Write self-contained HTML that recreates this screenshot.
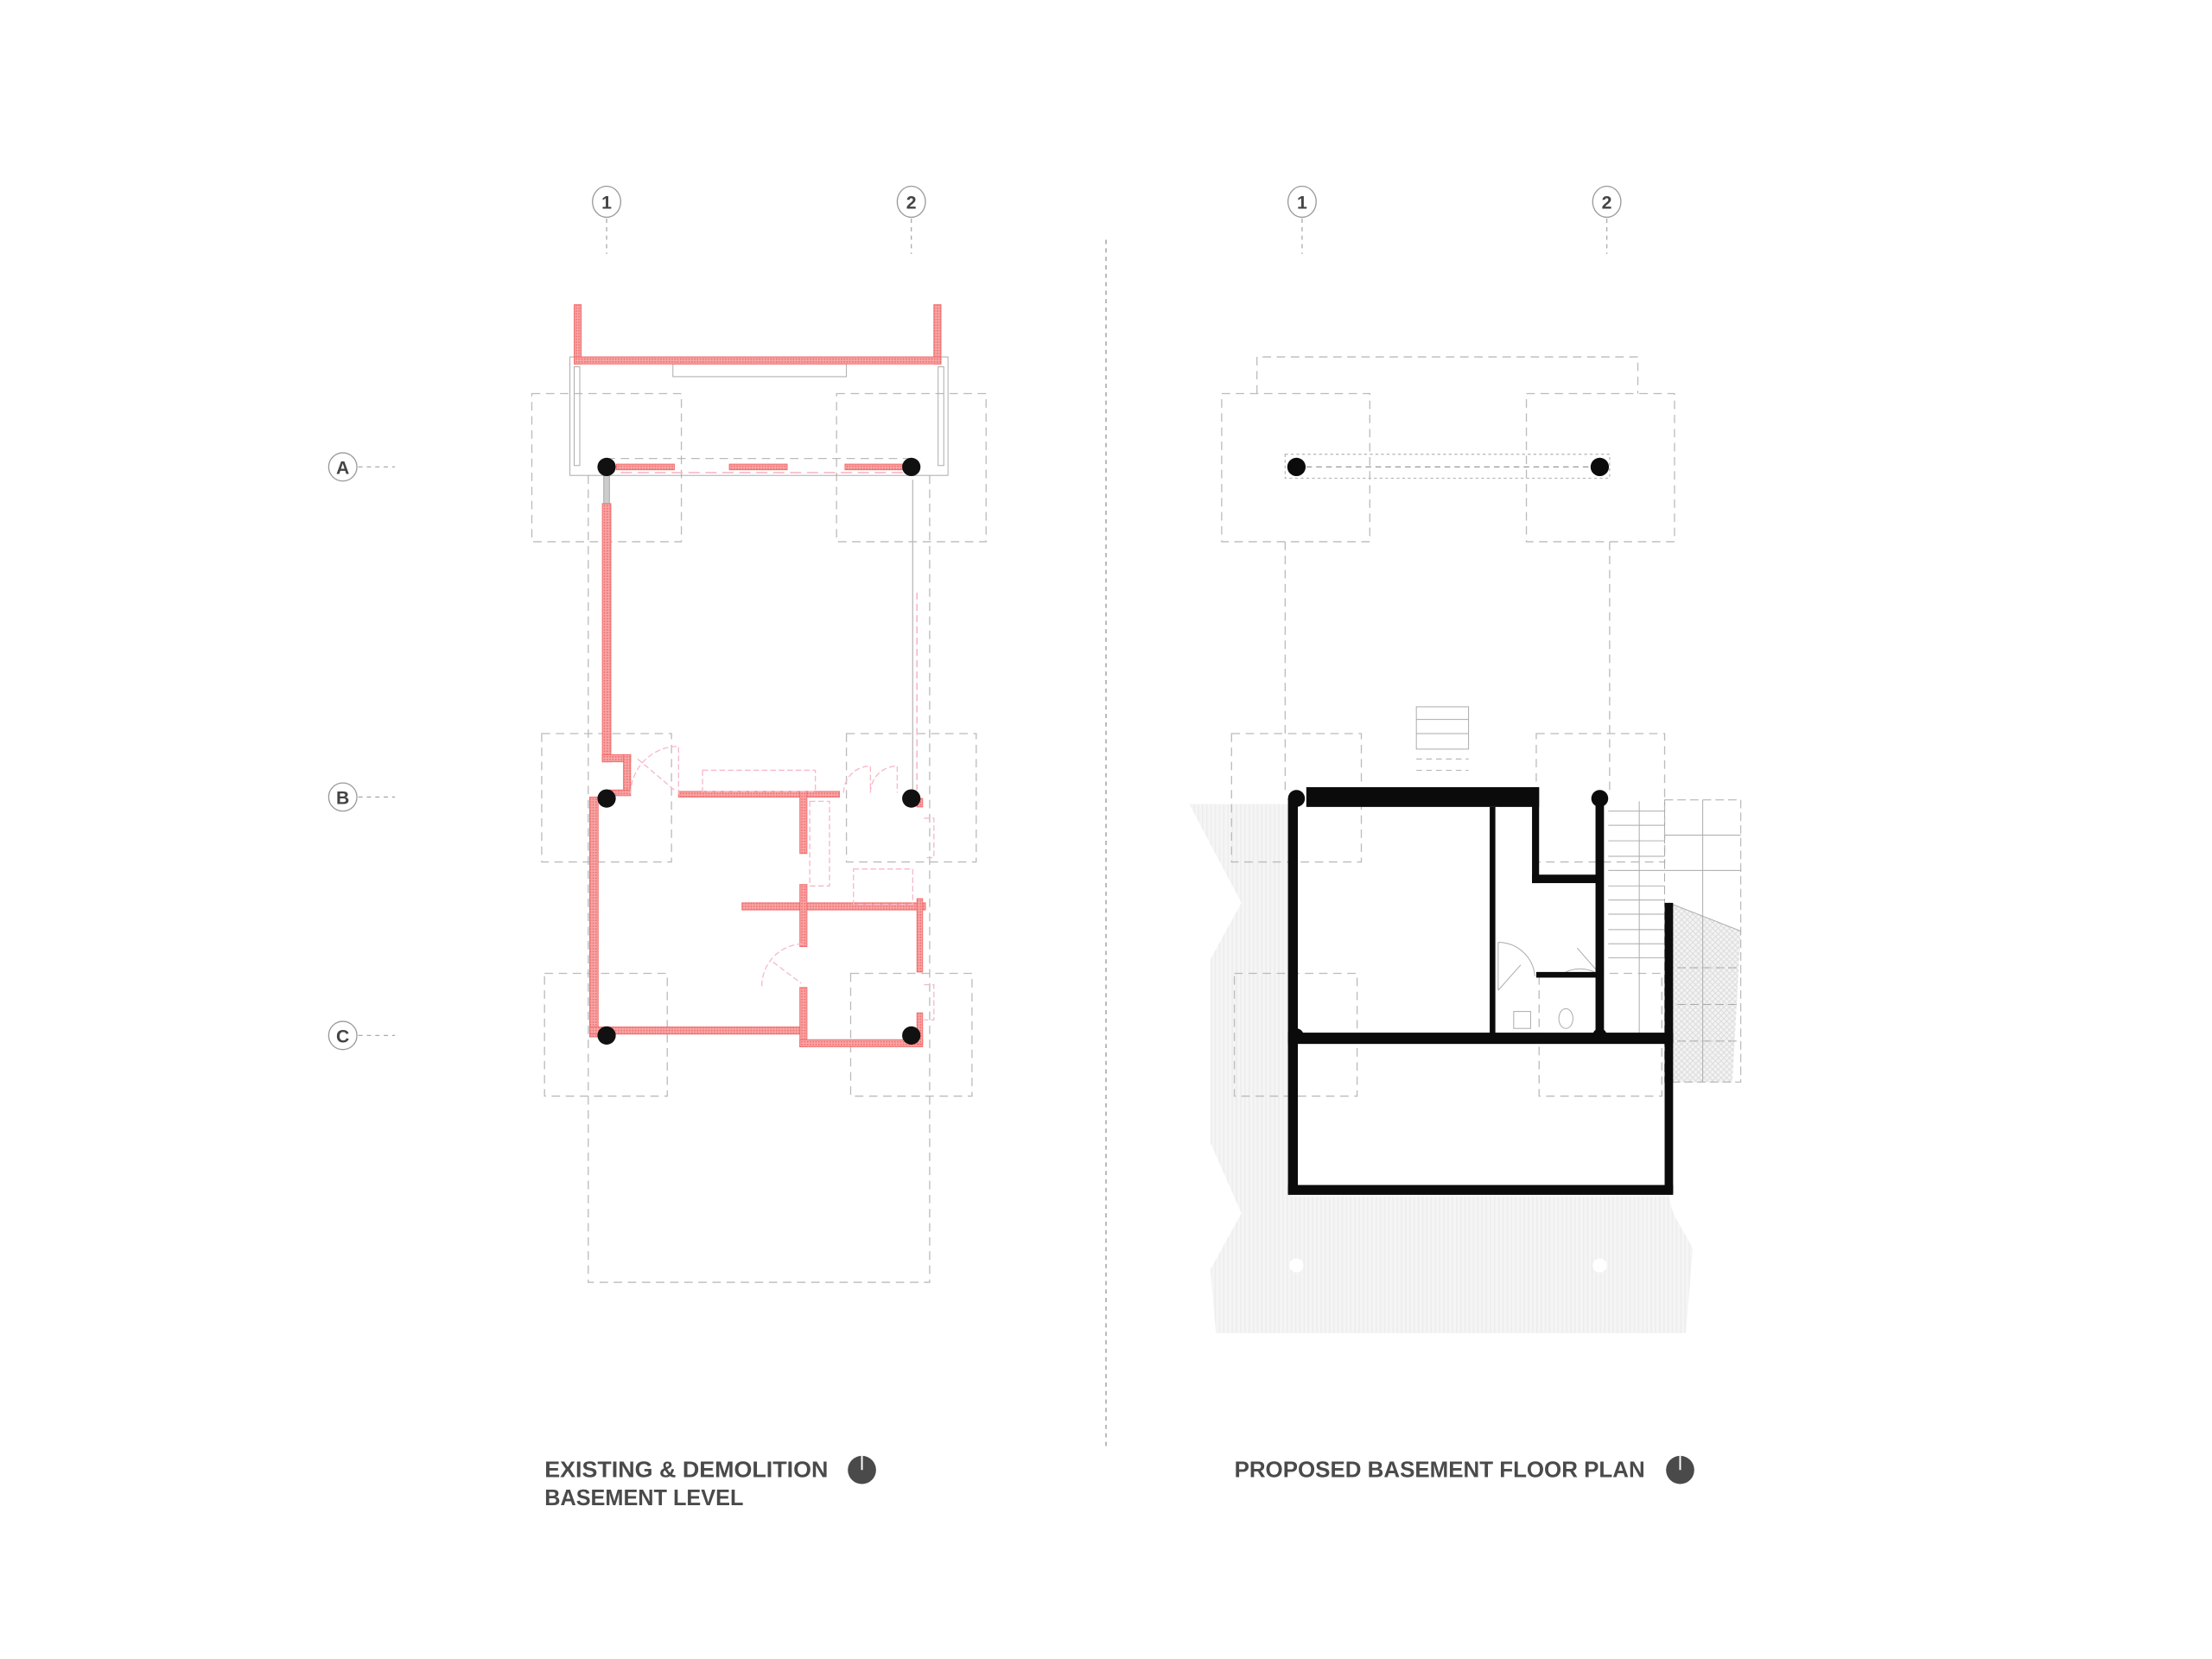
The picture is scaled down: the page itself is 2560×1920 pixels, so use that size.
<!DOCTYPE html>
<html><head><meta charset="utf-8"><style>
html,body{margin:0;padding:0;background:#fff;}
svg{display:block;}
text{font-family:"Liberation Sans",sans-serif;}
</style></head><body>
<svg width="2560" height="1920" viewBox="0 0 1568 1176" xmlns="http://www.w3.org/2000/svg">
<defs>
<pattern id="rh" width="2" height="2" patternUnits="userSpaceOnUse"><rect width="2" height="2" fill="#f7a5a5"/><rect width="1" height="1" fill="#f26d6d"/></pattern>
<pattern id="gh" width="3" height="3" patternUnits="userSpaceOnUse"><rect width="3" height="3" fill="#f5f5f5"/><rect width="1" height="3" fill="#ededed"/></pattern>
<pattern id="xh" width="4" height="4" patternUnits="userSpaceOnUse"><rect width="4" height="4" fill="#f3f3f3"/><path d="M0 0L4 4M4 0L0 4" stroke="#d8d8d8" stroke-width="0.5"/></pattern>
</defs>
<rect width="1568" height="1176" fill="#fff"/>

<line x1="784" y1="170" x2="784" y2="1027" stroke="#aaa" stroke-width="1" stroke-dasharray="3,3"/>

<g fill="#fff" stroke="#999" stroke-width="0.8">
<ellipse cx="430" cy="143" rx="10" ry="11"/><ellipse cx="646" cy="143" rx="10" ry="11"/>
<ellipse cx="923" cy="143" rx="10" ry="11"/><ellipse cx="1139" cy="143" rx="10" ry="11"/>
<ellipse cx="243" cy="331" rx="10" ry="10"/><ellipse cx="243" cy="565" rx="10" ry="10"/><ellipse cx="243" cy="734" rx="10" ry="10"/>
</g>
<g font-size="13" font-weight="bold" fill="#444" text-anchor="middle">
<text x="430" y="148">1</text><text x="646" y="148">2</text>
<text x="923" y="148">1</text><text x="1139" y="148">2</text>
<text x="243" y="336">A</text><text x="243" y="570">B</text><text x="243" y="739">C</text>
</g>
<g stroke="#aaa" stroke-width="0.8" stroke-dasharray="3,3">
<line x1="430" y1="155" x2="430" y2="180"/><line x1="646" y1="155" x2="646" y2="180"/>
<line x1="923" y1="155" x2="923" y2="180"/><line x1="1139" y1="155" x2="1139" y2="180"/>
<line x1="254" y1="331" x2="280" y2="331"/><line x1="254" y1="565" x2="280" y2="565"/><line x1="254" y1="734" x2="280" y2="734"/>
</g>

<g fill="none" stroke="#bbb" stroke-width="0.8" stroke-dasharray="6,4">
<rect x="377" y="279" width="106" height="105"/><rect x="593" y="279" width="106" height="105"/>
<rect x="384" y="520" width="92" height="91"/><rect x="600" y="520" width="92" height="91"/>
<rect x="386" y="690" width="87" height="87"/><rect x="603" y="690" width="86" height="87"/>
<polyline points="417,337 417,909 659,909 659,337"/>
<line x1="430" y1="325" x2="646" y2="325"/>
</g>
<rect x="404" y="253" width="268" height="84" fill="none" stroke="#aaa" stroke-width="0.6"/>
<rect x="477" y="258" width="123" height="9" fill="none" stroke="#aaa" stroke-width="0.6"/>
<rect x="407" y="260" width="4" height="70" fill="none" stroke="#aaa" stroke-width="0.6"/>
<rect x="665" y="260" width="4" height="70" fill="none" stroke="#aaa" stroke-width="0.6"/>
<rect x="428" y="337" width="4" height="20" fill="#ccc" stroke="#999" stroke-width="0.5"/>
<line x1="647" y1="340" x2="647" y2="560" stroke="#bbb" stroke-width="0.8"/>
<line x1="650" y1="420" x2="650" y2="560" stroke="#f7b8c8" stroke-width="1" stroke-dasharray="5,3"/>
<line x1="440" y1="335" x2="640" y2="335" stroke="#f7b8c8" stroke-width="1" stroke-dasharray="8,4"/>

<g fill="url(#rh)" stroke="#f26d6d" stroke-width="0.6">
<rect x="407" y="216" width="5" height="42"/><rect x="662" y="216" width="5" height="42"/>
<rect x="407" y="253" width="260" height="5"/>
<rect x="437" y="329" width="41" height="4"/><rect x="517" y="329" width="41" height="4"/><rect x="599" y="329" width="41" height="4"/>
<rect x="427" y="357" width="6" height="183"/>
<rect x="427" y="535" width="20" height="5"/><rect x="442" y="535" width="5" height="28"/>
<rect x="432" y="560" width="15" height="4"/>
<rect x="418" y="565" width="6" height="170"/>
<rect x="418" y="728" width="152" height="5"/>
<rect x="481" y="561" width="114" height="4"/>
<rect x="567" y="561" width="5" height="44"/>
<rect x="526" y="640" width="130" height="5"/>
<rect x="567" y="627" width="5" height="44"/>
<rect x="567" y="700" width="5" height="42"/>
<rect x="567" y="737" width="87" height="5"/>
<rect x="650" y="566" width="4" height="6"/>
<rect x="650" y="637" width="4" height="52"/>
<rect x="650" y="718" width="4" height="22"/>
</g>
<g fill="none" stroke="#f7b8c8" stroke-width="0.8" stroke-dasharray="4,2">
<path d="M447 563 A34 34 0 0 1 481 529 L481 563"/>
<path d="M452 538 L478 560"/>
<rect x="498" y="546" width="80" height="15"/>
<path d="M598 562 A19 19 0 0 1 617 543 L617 562 M617 562 A19 19 0 0 1 636 543 L636 562"/>
<path d="M540 699 A30 30 0 0 1 570 669 M548 682 L568 697"/>
<rect x="574" y="568" width="14" height="60"/>
<rect x="605" y="616" width="42" height="25"/>
<path d="M655 580 h7 v28 h-7 M655 698 h7 v25 h-7"/>
</g>
<g fill="#111">
<circle cx="430" cy="331" r="6.5"/><circle cx="646" cy="331" r="6.5"/>
<circle cx="430" cy="566" r="6.5"/><circle cx="646" cy="566" r="6.5"/>
<circle cx="430" cy="734" r="6.5"/><circle cx="646" cy="734" r="6.5"/>
</g>

<polygon fill="url(#gh)" points="843,570 915,570 915,848 1183,848 1186,860 1200,885 1195,945 862,945 858,900 880,860 858,810 858,680 880,640"/>
<polygon fill="url(#xh)" points="1183,640 1234,660 1228,767 1183,767"/>
<g fill="none" stroke="#bbb" stroke-width="0.8" stroke-dasharray="6,4">
<polyline points="891,279 891,253 1161,253 1161,279"/>
<rect x="866" y="279" width="105" height="105"/><rect x="1082" y="279" width="105" height="105"/>
<rect x="873" y="520" width="92" height="91"/><rect x="1089" y="520" width="91" height="91"/>
<rect x="875" y="690" width="87" height="87"/><rect x="1091" y="690" width="87" height="87"/>
<line x1="911" y1="384" x2="911" y2="560"/><line x1="1141" y1="384" x2="1141" y2="560"/>
</g>
<rect x="911" y="322" width="230" height="17" fill="none" stroke="#bbb" stroke-width="0.8" stroke-dasharray="2,2"/>
<line x1="919" y1="331" x2="1134" y2="331" stroke="#999" stroke-width="0.8" stroke-dasharray="4,3"/>
<g fill="none" stroke="#aaa" stroke-width="0.6">
<rect x="1004" y="501" width="37" height="30"/>
<line x1="1004" y1="510" x2="1041" y2="510"/><line x1="1004" y1="520" x2="1041" y2="520"/>
<line x1="1004" y1="538" x2="1041" y2="538" stroke-dasharray="4,3"/><line x1="1004" y1="546" x2="1041" y2="546" stroke-dasharray="4,3"/>
<line x1="1140" y1="575" x2="1180" y2="575"/><line x1="1140" y1="585" x2="1180" y2="585"/><line x1="1140" y1="596" x2="1180" y2="596"/>
<line x1="1140" y1="607" x2="1180" y2="607"/><line x1="1140" y1="617" x2="1180" y2="617"/><line x1="1140" y1="628" x2="1180" y2="628"/>
<line x1="1140" y1="638" x2="1180" y2="638"/><line x1="1140" y1="648" x2="1180" y2="648"/><line x1="1140" y1="659" x2="1180" y2="659"/>
<line x1="1140" y1="669" x2="1180" y2="669"/><line x1="1140" y1="679" x2="1180" y2="679"/>
<line x1="1162" y1="568" x2="1162" y2="736"/>
<rect x="1180" y="567" width="54" height="200" stroke-dasharray="6,3"/>
<line x1="1207" y1="567" x2="1207" y2="767"/>
<line x1="1180" y1="592" x2="1234" y2="592"/><line x1="1180" y1="617" x2="1234" y2="617"/>
<line x1="1183" y1="640" x2="1234" y2="660"/>
<line x1="1180" y1="686" x2="1234" y2="686" stroke-dasharray="6,3"/><line x1="1180" y1="712" x2="1234" y2="712" stroke-dasharray="6,3"/><line x1="1180" y1="738" x2="1234" y2="738" stroke-dasharray="6,3"/>
<path d="M1062 668 L1062 702 M1062 702 L1078 684 M1062 668 A26 26 0 0 1 1088 692"/>
<path d="M1132 690 A24 24 0 0 0 1108 690 M1132 688 L1118 672"/>
<rect x="1073" y="717" width="12" height="12"/>
<ellipse cx="1110" cy="722" rx="5" ry="7"/>
</g>
<g fill="#0b0b0b">
<rect x="913" y="566" width="7" height="280"/>
<rect x="913" y="840" width="273" height="7"/>
<rect x="1180" y="640" width="6" height="206"/>
<rect x="926" y="558" width="165" height="14"/>
<rect x="913" y="732" width="273" height="8"/>
<rect x="1056" y="572" width="4" height="162"/>
<rect x="1086" y="558" width="5" height="68"/>
<rect x="1086" y="620" width="50" height="6"/>
<rect x="1131" y="566" width="6" height="170"/>
<rect x="1089" y="689" width="45" height="4"/>
<circle cx="919" cy="566" r="6"/><circle cx="1134" cy="566" r="6"/>
<circle cx="919" cy="734" r="5"/><circle cx="1134" cy="734" r="5"/>
<circle cx="919" cy="331" r="6.5"/><circle cx="1134" cy="331" r="6.5"/>
</g>
<circle cx="919" cy="897" r="5" fill="#fff"/><circle cx="1134" cy="897" r="5" fill="#fff"/>

<g font-size="16" font-weight="bold" fill="#4a4a4a">
<text x="386" y="1047" textLength="201" lengthAdjust="spacingAndGlyphs">EXISTING &amp; DEMOLITION</text>
<text x="386" y="1067" textLength="141" lengthAdjust="spacingAndGlyphs">BASEMENT LEVEL</text>
<text x="875" y="1047" textLength="291" lengthAdjust="spacingAndGlyphs">PROPOSED BASEMENT FLOOR PLAN</text>
</g>
<circle cx="611" cy="1042" r="10" fill="#4a4a4a"/><line x1="611" y1="1032" x2="611" y2="1042" stroke="#fff" stroke-width="1.2"/>
<circle cx="1191" cy="1042" r="10" fill="#4a4a4a"/><line x1="1191" y1="1032" x2="1191" y2="1042" stroke="#fff" stroke-width="1.2"/>
</svg>
</body></html>
